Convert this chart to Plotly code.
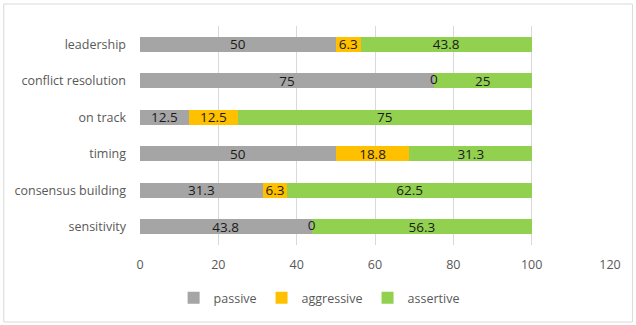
import plotly.graph_objects as go

categories = ["leadership", "conflict resolution", "on track", "timing", "consensus building", "sensitivity"]
passive = [50, 75, 12.5, 50, 31.3, 43.8]
aggressive = [6.3, 0, 12.5, 18.8, 6.3, 0]
assertive = [43.8, 25, 75, 31.3, 62.5, 56.3]
x_ticks = [0, 20, 40, 60, 80, 100, 120]

series = [("passive", passive, "#A5A5A5"),
          ("aggressive", aggressive, "#FFC000"),
          ("assertive", assertive, "#92D050")]

W, H = 636, 325
ml, mr, mt, mb = 139.5, 25.5, 26, 80
pw, ph = W - ml - mr, H - mt - mb

fig = go.Figure()
cum = [0.0] * len(categories)
zero_x, zero_y = [], []
for name, vals, color in series:
    fig.add_trace(go.Bar(
        name=name, y=categories, x=vals, orientation="h",
        marker=dict(color=color, line=dict(width=0)),
        text=[("%g" % v) if v != 0 else "" for v in vals],
        textposition="inside", insidetextanchor="middle",
        constraintext="none", textangle=0,
        insidetextfont=dict(color="#1a1a1a", size=13.5, family="Open Sans"),
        hoverinfo="skip",
    ))
    for i, v in enumerate(vals):
        if v == 0:
            zero_x.append(cum[i])
            zero_y.append(categories[i])
        cum[i] += v

fig.add_trace(go.Scatter(
    x=zero_x, y=zero_y, mode="text", text=["0"] * len(zero_x),
    textposition="middle center", textfont=dict(color="#1a1a1a", size=13.5, family="Open Sans"),
    showlegend=False, hoverinfo="skip",
))

fig.update_layout(
    width=W, height=H,
    margin=dict(l=ml, r=mr, t=mt, b=mb, pad=0),
    barmode="stack", bargap=0.59,
    plot_bgcolor="white", paper_bgcolor="white",
    font=dict(family="Open Sans", size=12.5, color="#595959"),
    xaxis=dict(range=[0, 120], tickvals=x_ticks, showgrid=True, gridcolor="#D9D9D9",
               gridwidth=1, zeroline=False, showline=False, ticks="",
               ticklabelstandoff=10,
               tickfont=dict(size=12.5, color="#595959"), fixedrange=True),
    yaxis=dict(categoryorder="array", categoryarray=categories, autorange="reversed",
               showgrid=False, zeroline=False, showline=False, ticks="",
               ticklabelstandoff=13, tickfont=dict(size=12.5, color="#595959")),
    legend=dict(orientation="h", x=(319 - ml) / pw, xanchor="center",
                y=1 - (298 - mt) / ph, yanchor="middle", itemwidth=30,
                font=dict(size=12.5, color="#595959"), traceorder="normal"),
    shapes=[dict(type="rect", xref="paper", yref="paper",
                 x0=(3 - ml) / pw, x1=(633 - ml) / pw,
                 y0=1 - (322 - mt) / ph, y1=1 + (mt - 4) / ph,
                 line=dict(color="#D9D9D9", width=1), layer="below")],
)

fig.write_html("out.html")
